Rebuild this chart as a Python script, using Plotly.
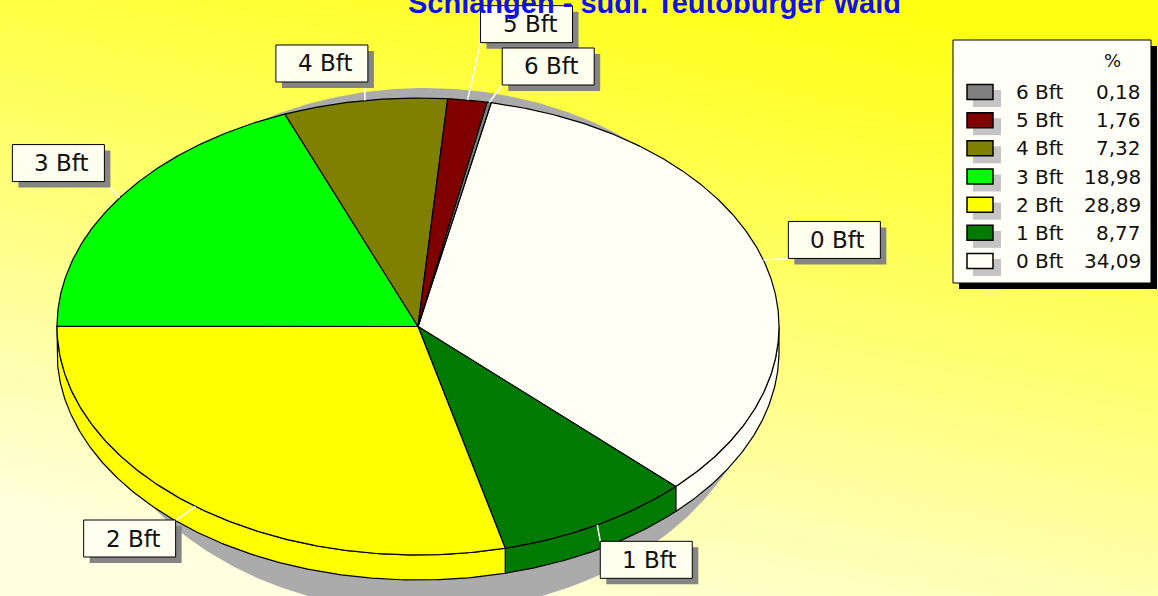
import base64
import numpy as np
import plotly.graph_objects as go

# ---------------- data ----------------
categories = ["0 Bft", "1 Bft", "2 Bft", "3 Bft", "4 Bft", "5 Bft", "6 Bft"]
values = [34.09, 8.77, 28.89, 18.98, 7.32, 1.76, 0.18]
slice_colors = ["#fffff6", "#007a00", "#ffff00", "#00ff00", "#808000", "#800000", "#808080"]
title_text = "Schlangen - südl. Teutoburger Wald"
legend_header = "%"

# ---------------- layout constants ----------------
W, H = 1158, 596
CX, CY, RX, RY, DEPTH = 418, 326.5, 361, 228.5, 25
START = 11.7  # degrees clockwise from 12 o'clock
LABEL_OFFSETS = {
    "0 Bft": (71, -20), "1 Bft": (49, 35), "2 Bft": (-66, 32), "3 Bft": (-61, -35),
    "4 Bft": (-43, -37), "5 Bft": (59, -76), "6 Bft": (59, -36),
}
BOX_W, BOX_H = 92, 37


def pt(theta_deg, dy=0.0, cx=CX, cy=CY, rx=RX, ry=RY):
    t = np.radians(theta_deg)
    return cx + rx * np.sin(t), cy - ry * np.cos(t) + dy


fig = go.Figure()

# shadow behind the pie
th = np.linspace(0, 360, 361)
sx, sy = pt(th, cx=425, cy=350, rx=340, ry=262)
fig.add_trace(go.Scatter(x=sx, y=sy, fill="toself", fillcolor="#ababab",
                         line=dict(width=0), mode="lines", hoverinfo="skip"))

total = sum(values)
cum = np.concatenate([[0], np.cumsum(values)]) / total * 360 + START

# side faces (front half)
for i, cat in enumerate(categories):
    a1, a2 = cum[i], cum[i + 1]
    lo, hi = max(a1, 90), min(a2, 270)
    if hi > lo:
        t = np.linspace(lo, hi, max(3, int((hi - lo) * 2)))
        x1, y1 = pt(t)
        x2, y2 = pt(t[::-1], DEPTH)
        fig.add_trace(go.Scatter(x=np.concatenate([x1, x2, x1[:1]]),
                                 y=np.concatenate([y1, y2, y1[:1]]),
                                 fill="toself", fillcolor=slice_colors[i],
                                 line=dict(color="black", width=1.2), mode="lines",
                                 hoverinfo="skip"))

# top faces
for i, cat in enumerate(categories):
    a1, a2 = cum[i], cum[i + 1]
    t = np.linspace(a1, a2, max(3, int((a2 - a1) * 2)))
    xa, ya = pt(t)
    fig.add_trace(go.Scatter(x=np.concatenate([[CX], xa, [CX]]),
                             y=np.concatenate([[CY], ya, [CY]]),
                             fill="toself", fillcolor=slice_colors[i],
                             line=dict(color="black", width=1.2), mode="lines",
                             name=cat, hoverinfo="skip"))

shapes = []
annotations = []

# slice labels with leader lines
for i, cat in enumerate(categories):
    mid = (cum[i] + cum[i + 1]) / 2
    ax, ay = pt(mid)
    dx, dy = LABEL_OFFSETS[cat]
    bx, by = ax + dx, ay + dy
    x0, x1 = bx - BOX_W / 2, bx + BOX_W / 2
    y0, y1 = by - BOX_H / 2, by + BOX_H / 2
    px, py = min(max(ax, x0), x1), min(max(ay, y0), y1)
    shapes.append(dict(type="line", x0=ax, y0=ay, x1=px, y1=py,
                       line=dict(color="white", width=1.5), layer="above"))
    shapes.append(dict(type="rect", x0=x0 + 6, y0=y0 + 6, x1=x1 + 6, y1=y1 + 6,
                       fillcolor="#858585", line=dict(width=0), layer="above"))
    shapes.append(dict(type="rect", x0=x0, y0=y0, x1=x1, y1=y1,
                       fillcolor="#fffff0", line=dict(color="black", width=1), layer="above"))
    annotations.append(dict(x=bx + 3, y=by, text=cat, showarrow=False,
                            xanchor="center", yanchor="middle",
                            font=dict(family="DejaVu Sans", size=23, color="#111111")))

# legend
LX0, LY0, LX1, LY1 = 953, 40, 1151, 283
shapes.append(dict(type="rect", x0=LX0 + 6, y0=LY0 + 6, x1=LX1 + 6, y1=LY1 + 6,
                   fillcolor="black", line=dict(width=0), layer="above"))
shapes.append(dict(type="rect", x0=LX0, y0=LY0, x1=LX1, y1=LY1,
                   fillcolor="#fffff8", line=dict(color="black", width=1), layer="above"))
annotations.append(dict(x=1112, y=60, text=legend_header, showarrow=False,
                        xanchor="center", yanchor="middle",
                        font=dict(family="DejaVu Sans", size=18, color="#111111")))
order = list(range(len(categories)))[::-1]
for j, i in enumerate(order):
    yc = 92 + j * 28.17
    shapes.append(dict(type="rect", x0=973, y0=yc - 2, x1=1001, y1=yc + 15,
                       fillcolor="#c4c4c4", line=dict(width=0), layer="above"))
    shapes.append(dict(type="rect", x0=967, y0=yc - 7.5, x1=993, y1=yc + 7.5,
                       fillcolor=slice_colors[i], line=dict(color="black", width=1.5),
                       layer="above"))
    annotations.append(dict(x=1014, y=yc, text=categories[i], showarrow=False,
                            xanchor="left", yanchor="middle",
                            font=dict(family="DejaVu Sans", size=20, color="#111111")))
    annotations.append(dict(x=1143, y=yc, text=f"{values[i]:.2f}".replace(".", ","),
                            showarrow=False, xanchor="right", yanchor="middle",
                            font=dict(family="DejaVu Sans", size=20, color="#111111")))

# title (top partly cut off, as in the reference)
annotations.append(dict(x=654, y=3, text=f"<b>{title_text}</b>", showarrow=False,
                        xanchor="center", yanchor="middle",
                        font=dict(family="Liberation Sans", size=29, color="#1010e8")))

svg = (f"<svg xmlns='http://www.w3.org/2000/svg' width='{W}' height='{H}' "
       "preserveAspectRatio='none'><defs><linearGradient id='g' x1='0.7' y1='0' x2='0.3' y2='1'>"
       "<stop offset='0' stop-color='#ffff14'/><stop offset='0.5' stop-color='#ffff78'/>"
       "<stop offset='1' stop-color='#ffffe2'/></linearGradient></defs>"
       f"<rect width='{W}' height='{H}' fill='url(#g)'/></svg>")
src = "data:image/svg+xml;base64," + base64.b64encode(svg.encode()).decode()

fig.update_layout(
    width=W, height=H, margin=dict(l=0, r=0, t=0, b=0),
    showlegend=False,
    paper_bgcolor="#ffff80", plot_bgcolor="rgba(0,0,0,0)",
    xaxis=dict(range=[0, W], visible=False, fixedrange=True),
    yaxis=dict(range=[H, 0], visible=False, fixedrange=True),
    shapes=shapes, annotations=annotations,
    images=[dict(source=src, xref="paper", yref="paper", x=0, y=1, sizex=1, sizey=1,
                 xanchor="left", yanchor="top", sizing="stretch", layer="below")],
)

fig.write_html("out.html", config={"displayModeBar": False, "staticPlot": True},
               post_script="document.body.style.margin='0';document.body.style.overflow='hidden';")
